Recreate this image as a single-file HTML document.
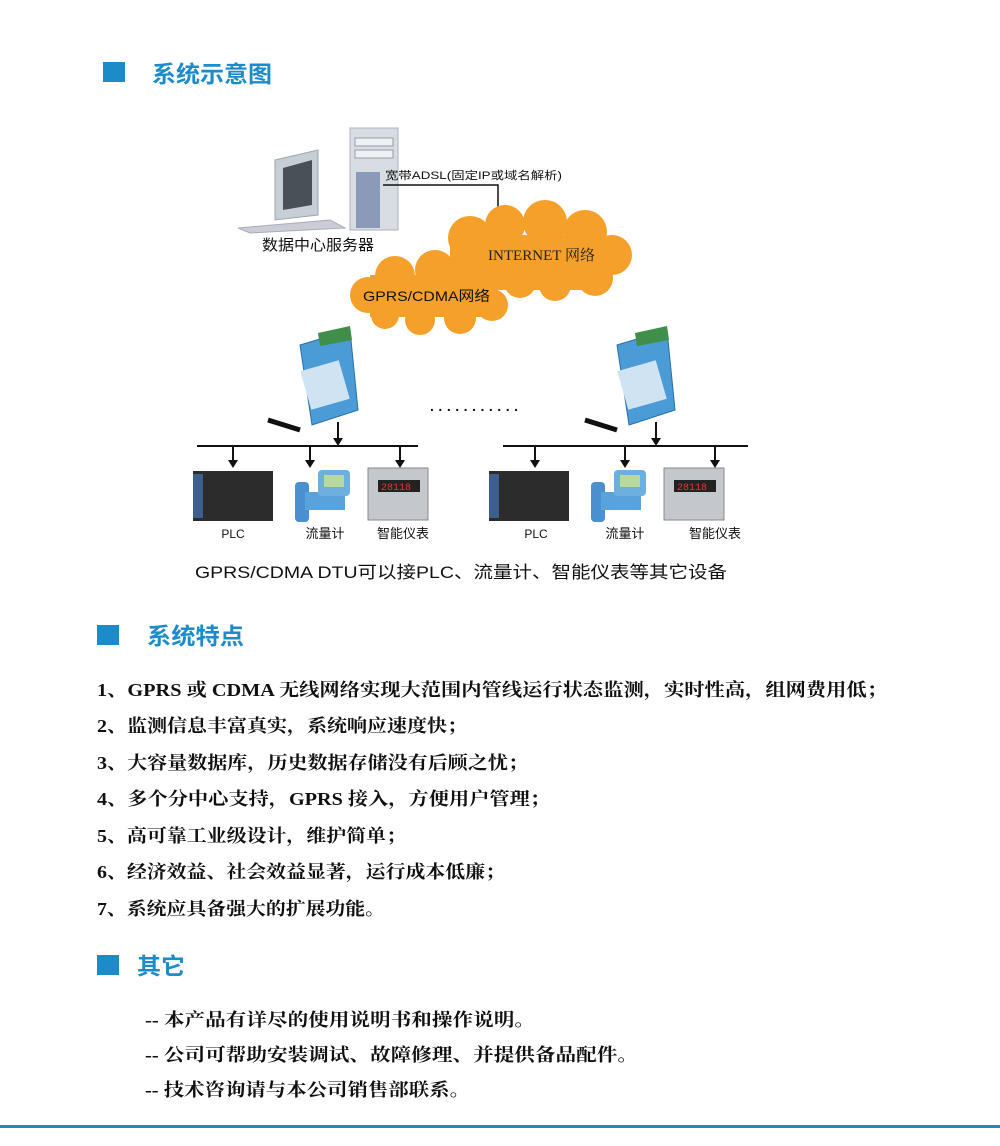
<!DOCTYPE html>
<html><head><meta charset="utf-8"><style>
html,body{margin:0;padding:0;background:#fff;}
svg{display:block;}
.h{font-family:"Liberation Sans","Noto Sans CJK SC",sans-serif;font-weight:bold;fill:#1b8cc9;}
.s{font-family:"Liberation Sans","Noto Sans CJK SC",sans-serif;fill:#111;}
.b{font-family:"Liberation Serif","Noto Serif CJK SC",serif;font-weight:bold;fill:#111;font-size:18px;}
</style></head><body>
<svg width="1000" height="1146" viewBox="0 0 1000 1146" xmlns="http://www.w3.org/2000/svg">
<rect width="1000" height="1146" fill="#fff"/>
<rect x="103" y="62" width="22" height="20" fill="#1b8cc9"/>
<text class="h" x="152" y="82" font-size="23" textLength="120" lengthAdjust="spacingAndGlyphs">系统示意图</text>

<g>
<rect x="350" y="128" width="48" height="102" fill="#d8dde3" stroke="#aab2bb"/>
<rect x="355" y="138" width="38" height="8" fill="#eef1f4" stroke="#99a"/>
<rect x="355" y="150" width="38" height="8" fill="#eef1f4" stroke="#99a"/>
<rect x="356" y="172" width="24" height="56" fill="#8a9ab8"/>
<polygon points="275,160 318,150 318,215 275,220" fill="#c8ced6" stroke="#9aa"/>
<polygon points="283,168 312,160 312,205 283,210" fill="#4a5058"/>
<polygon points="238,228 330,220 345,228 250,233" fill="#c9ced6" stroke="#aab"/>
</g>
<text class="s" x="318" y="250" font-size="15" text-anchor="middle" textLength="112" lengthAdjust="spacingAndGlyphs">数据中心服务器</text>
<text class="s" x="385" y="179" font-size="11" textLength="177" lengthAdjust="spacingAndGlyphs">宽带ADSL(固定IP或域名解析)</text>
<polyline points="383,185 498,185 498,220" fill="none" stroke="#111" stroke-width="1.5"/>

<g fill="#f5a02a">
<circle cx="470" cy="238" r="22"/><circle cx="505" cy="225" r="20"/><circle cx="545" cy="222" r="22"/><circle cx="585" cy="232" r="22"/><circle cx="612" cy="255" r="20"/><circle cx="595" cy="278" r="18"/><circle cx="555" cy="285" r="16"/><circle cx="520" cy="282" r="16"/>
<circle cx="368" cy="295" r="18"/><circle cx="395" cy="276" r="20"/><circle cx="435" cy="270" r="20"/><circle cx="478" cy="280" r="20"/><circle cx="492" cy="305" r="16"/><circle cx="460" cy="318" r="16"/><circle cx="420" cy="320" r="15"/><circle cx="385" cy="315" r="14"/>
<rect x="450" y="235" width="150" height="55"/>
<rect x="370" y="275" width="120" height="42"/>
</g>
<text x="488" y="260" font-family="Liberation Serif,'Noto Serif CJK SC',serif" font-size="15" fill="#222" textLength="107" lengthAdjust="spacingAndGlyphs">INTERNET 网络</text>
<text class="s" x="363" y="301" font-size="14" textLength="127" lengthAdjust="spacingAndGlyphs">GPRS/CDMA网络</text>

<g id="dtu">
<line x1="268" y1="420" x2="300" y2="430" stroke="#111" stroke-width="5"/>
<polygon points="300,345 350,330 358,410 312,425" fill="#4a9bd6" stroke="#2a6fa8"/>
<polygon points="318,333 350,326 352,340 320,346" fill="#3f8f4a"/>
<rect x="305" y="365" width="40" height="40" fill="#cfe3f3" transform="rotate(-16 325 385)"/>
</g>
<use href="#dtu" transform="translate(317,0)"/>
<text class="s" x="430" y="411" font-size="14" font-weight="bold" textLength="88" lengthAdjust="spacing">...........</text>

<g stroke="#111" stroke-width="2" fill="none">
<line x1="197" y1="446" x2="418" y2="446"/>
<line x1="503" y1="446" x2="748" y2="446"/>
<line x1="338" y1="422" x2="338" y2="440"/><line x1="656" y1="422" x2="656" y2="440"/>
<line x1="233" y1="446" x2="233" y2="462"/><line x1="310" y1="446" x2="310" y2="462"/><line x1="400" y1="446" x2="400" y2="462"/>
<line x1="535" y1="446" x2="535" y2="462"/><line x1="625" y1="446" x2="625" y2="462"/><line x1="715" y1="446" x2="715" y2="462"/>
</g>
<g fill="#111">
<polygon points="333,438 343,438 338,446"/><polygon points="651,438 661,438 656,446"/>
<polygon points="228,460 238,460 233,468"/><polygon points="305,460 315,460 310,468"/><polygon points="395,460 405,460 400,468"/>
<polygon points="530,460 540,460 535,468"/><polygon points="620,460 630,460 625,468"/><polygon points="710,460 720,460 715,468"/>
</g>

<g id="devs">
<rect x="193" y="471" width="80" height="50" fill="#2c2c2c"/>
<rect x="193" y="474" width="10" height="44" fill="#3c5f90"/>
<rect x="295" y="482" width="14" height="40" fill="#4a8fd0" rx="4"/>
<rect x="305" y="492" width="40" height="18" fill="#5aa2dc"/>
<rect x="318" y="470" width="32" height="26" fill="#6db0e0" rx="4"/>
<rect x="324" y="475" width="20" height="12" fill="#b9d99a"/>
<rect x="368" y="468" width="60" height="52" fill="#c4c8cc" stroke="#888"/>
<rect x="378" y="480" width="42" height="12" fill="#222"/>
<text x="381" y="490" font-family="Liberation Mono,monospace" font-size="10" fill="#e33">28118</text>
</g>
<use href="#devs" transform="translate(296,0)"/>
<g class="s" font-size="12" text-anchor="middle">
<text x="233" y="538">PLC</text><text x="325" y="538" font-size="13">流量计</text><text x="403" y="538" font-size="13">智能仪表</text>
<text x="536" y="538">PLC</text><text x="625" y="538" font-size="13">流量计</text><text x="715" y="538" font-size="13">智能仪表</text>
</g>
<text class="s" x="195" y="578" font-size="17" textLength="532" lengthAdjust="spacingAndGlyphs">GPRS/CDMA DTU可以接PLC、流量计、智能仪表等其它设备</text>

<rect x="97" y="625" width="22" height="20" fill="#1b8cc9"/>
<text class="h" x="147" y="644" font-size="23" textLength="97" lengthAdjust="spacingAndGlyphs">系统特点</text>
<text class="b" x="97" y="696" textLength="790" lengthAdjust="spacingAndGlyphs">1、GPRS 或 CDMA 无线网络实现大范围内管线运行状态监测，实时性高，组网费用低；</text>
<text class="b" x="97" y="732" textLength="370" lengthAdjust="spacingAndGlyphs">2、监测信息丰富真实，系统响应速度快；</text>
<text class="b" x="97" y="769" textLength="431" lengthAdjust="spacingAndGlyphs">3、大容量数据库，历史数据存储没有后顾之忧；</text>
<text class="b" x="97" y="805" textLength="453" lengthAdjust="spacingAndGlyphs">4、多个分中心支持，GPRS 接入，方便用户管理；</text>
<text class="b" x="97" y="842" textLength="309" lengthAdjust="spacingAndGlyphs">5、高可靠工业级设计，维护简单；</text>
<text class="b" x="97" y="878" textLength="408" lengthAdjust="spacingAndGlyphs">6、经济效益、社会效益显著，运行成本低廉；</text>
<text class="b" x="97" y="915" textLength="288" lengthAdjust="spacingAndGlyphs">7、系统应具备强大的扩展功能。</text>

<rect x="97" y="955" width="22" height="20" fill="#1b8cc9"/>
<text class="h" x="137" y="974" font-size="23" textLength="48" lengthAdjust="spacingAndGlyphs">其它</text>
<text class="b" x="145" y="1026" textLength="390" lengthAdjust="spacingAndGlyphs">-- 本产品有详尽的使用说明书和操作说明。</text>
<text class="b" x="145" y="1061" textLength="493" lengthAdjust="spacingAndGlyphs">-- 公司可帮助安装调试、故障修理、并提供备品配件。</text>
<text class="b" x="145" y="1096" textLength="325" lengthAdjust="spacingAndGlyphs">-- 技术咨询请与本公司销售部联系。</text>

<rect x="0" y="1125" width="1000" height="3" fill="#1b8cc9"/>
</svg>
</body></html>
